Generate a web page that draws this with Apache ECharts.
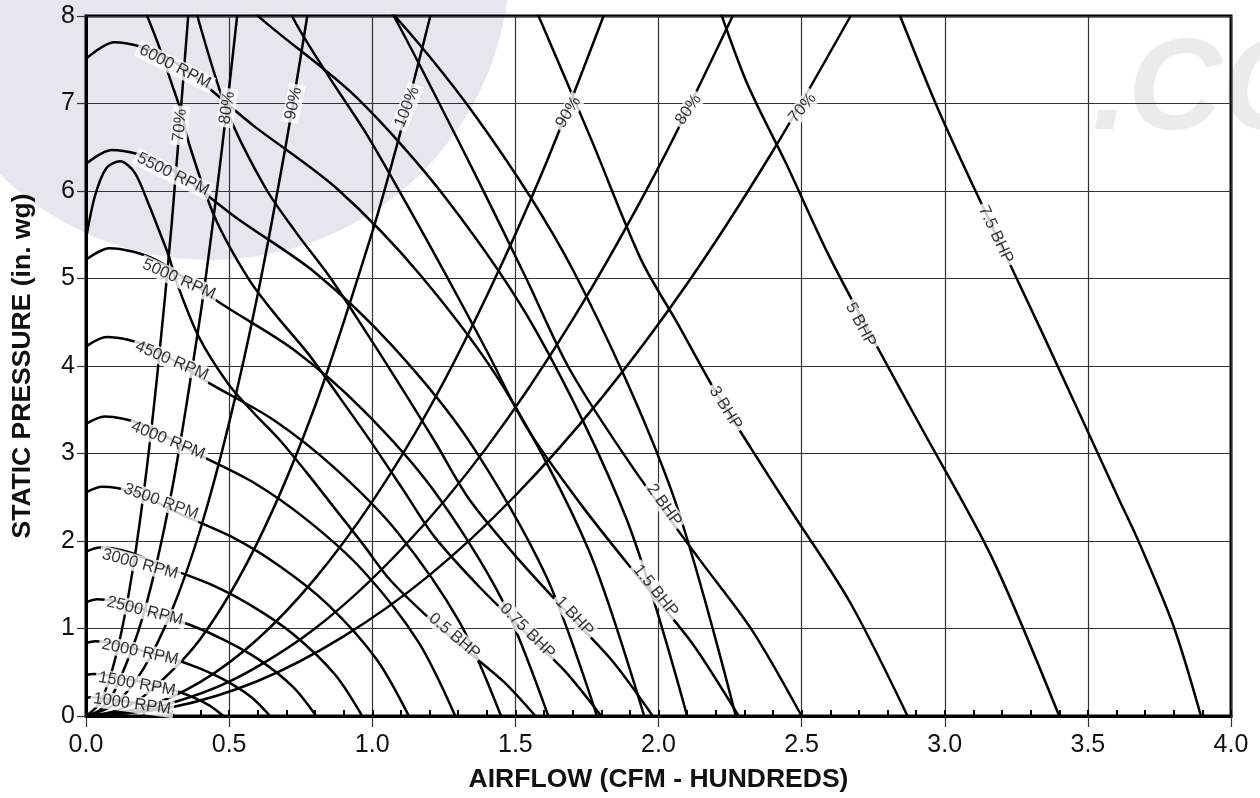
<!DOCTYPE html>
<html><head><meta charset="utf-8">
<script src="https://cdn.jsdelivr.net/npm/echarts@6/dist/echarts.min.js"></script>
<style>html,body{margin:0;padding:0;background:#fff}#c{width:1260px;height:798px}</style>
</head><body><div id="c"></div>
<script>
// ---- fan speed curves (x = airflow, y = static pressure) ----
const rpm1000 = [[0,.209],[.016,.214],[.047,.209],[.093,.188],[.14,.167],[.186,.14],[.233,.104],[.279,.053],[.31,0]];
const rpm1500 = [[0,.469],[.024,.481],[.072,.469],[.144,.421],[.216,.376],[.288,.314],[.36,.233],[.432,.119],[.48,0]];
const rpm2000 = [[0,.834],[.032,.855],[.096,.834],[.193,.75],[.289,.669],[.386,.559],[.482,.415],[.579,.212],[.643,0]];
const rpm2500 = [[0,1.30],[.04,1.333],[.121,1.30],[.241,1.168],[.362,1.043],[.482,.871],[.603,.647],[.724,.33],[.804,0]];
const rpm3000 = [[0,1.877],[.048,1.925],[.145,1.877],[.29,1.687],[.434,1.506],[.579,1.258],[.724,.934],[.869,.477],[.965,0]];
const rpm3500 = [[0,2.555],[.056,2.62],[.169,2.555],[.338,2.296],[.508,2.049],[.677,1.712],[.846,1.271],[1.015,.649],[1.128,0]];
const rpm4000 = [[0,3.337],[.065,3.422],[.194,3.337],[.387,2.998],[.581,2.677],[.774,2.236],[.968,1.66],[1.161,.847],[1.29,0]];
const rpm4500 = [[0,4.224],[.073,4.331],[.218,4.224],[.435,3.795],[.653,3.388],[.87,2.83],[1.088,2.101],[1.305,1.072],[1.45,0]];
const rpm5000 = [[0,5.215],[.081,5.347],[.242,5.215],[.485,4.685],[.727,4.182],[.969,3.494],[1.211,2.594],[1.454,1.324],[1.615,0]];
const rpm5500 = [[0,6.31],[.089,6.47],[.268,6.31],[.536,5.669],[.803,5.061],[1.071,4.228],[1.339,3.139],[1.607,1.602],[1.785,0]];
const rpm6000 = [[0,7.51],[.098,7.70],[.293,7.51],[.585,6.747],[.878,6.023],[1.17,5.032],[1.463,3.736],[1.755,1.906],[1.95,0]];
const rpm6500 = [[.315,8.814],[.63,7.919],[.945,7.069],[1.26,5.906],[1.575,4.385],[1.89,2.237],[2.10,0]];
const rpm7000 = [[.681,9.186],[1.022,8.2],[1.362,6.851],[1.703,5.086],[2.043,2.595],[2.27,0]];

// ---- constant brake horsepower curves ----
const bhp05 = [[0,5.45],[.031,5.94],[.071,6.26],[.119,6.34],[.17,6.21],[.22,5.84],[.261,5.5],[.29,5.25],[.314,4.98],[.393,4.34],[.496,3.80],[.581,3.48],[.675,3.16],[.769,2.79],[.865,2.39],[.966,1.97],[1.061,1.56],[1.198,1.12],[1.345,.707],[1.46,.389],[1.57,0]];
const bhp075 = [[.194,8.16],[.252,7.68],[.299,7.23],[.333,6.90],[.36,6.54],[.45,5.70],[.569,4.99],[.666,4.57],[.774,4.15],[.882,3.66],[.992,3.15],[1.107,2.59],[1.217,2.05],[1.373,1.48],[1.543,.93],[1.674,.51],[1.80,0]];
const bhp1 = [[.366,8.35],[.396,7.92],[.495,6.90],[.626,6.04],[.733,5.53],[.851,5.02],[.97,4.43],[1.091,3.81],[1.218,3.14],[1.338,2.48],[1.511,1.79],[1.697,1.125],[1.841,.62],[1.98,0]];
const bhp15 = [[.57,9.15],[.72,8.0],[.844,7.33],[.98,6.65],[1.117,5.87],[1.256,5.05],[1.402,4.16],[1.541,3.29],[1.74,2.37],[1.954,1.49],[2.12,.82],[2.28,0]];
const bhp2 = [[.79,9.63],[.925,8.81],[1.075,8.0],[1.225,7.06],[1.378,6.07],[1.538,5.0],[1.69,3.96],[1.908,2.85],[2.143,1.79],[2.325,.99],[2.5,0]];
const bhp3 = [[1.406,9.31],[1.581,8.0],[1.765,6.59],[1.94,5.21],[2.066,4.49],[2.19,3.76],[2.325,3.05],[2.46,2.36],[2.669,1.30],[2.87,0]];
const bhp5 = [[2.091,9.25],[2.298,7.32],[2.448,6.30],[2.594,5.27],[2.754,4.28],[2.914,3.32],[3.162,1.83],[3.40,0]];
const bhp75 = [[2.636,9.63],[2.808,8.29],[2.976,6.94],[3.159,5.64],[3.342,4.37],[3.608,2.48],[3.678,1.99],[3.80,1.02],[3.895,0]];

// ---- efficiency lines ----
const eff70L = [[0,0],[.05,.157],[.1,.628],[.15,1.41],[.2,2.51],[.25,3.93],[.3,5.65],[.357,8.0]];
const eff80L = [[0,0],[.05,.072],[.1,.287],[.2,1.15],[.3,2.58],[.4,4.59],[.45,5.81],[.5,7.18],[.528,8.0]];
const eff90L = [[0,0],[.1,.134],[.2,.536],[.3,1.205],[.4,2.14],[.5,3.35],[.6,4.82],[.7,6.56],[.773,8.0]];
const eff100 = [[0,0],[.1,.055],[.2,.221],[.4,.884],[.6,1.99],[.8,3.54],[1.0,5.53],[1.1,6.69],[1.203,8.0]];
const eff90R = [[0,0],[.2,.098],[.4,.39],[.6,.88],[.8,1.57],[1.0,2.45],[1.2,3.52],[1.4,4.80],[1.6,6.26],[1.808,8.0]];
const eff80R = [[0,0],[.2,.063],[.5,.392],[.8,1.0],[1.1,1.90],[1.4,3.07],[1.7,4.53],[2.0,6.27],[2.259,8.0]];
const eff70R = [[0,0],[.3,.10],[.6,.40],[.9,.91],[1.2,1.61],[1.5,2.52],[1.8,3.63],[2.1,4.94],[2.4,6.46],[2.671,8.0]];

// ---- curve labels (text and where they sit, in data units) ----
const rpmLabelText = ['1000 RPM','1500 RPM','2000 RPM','2500 RPM','3000 RPM','3500 RPM','4000 RPM','4500 RPM','5000 RPM','5500 RPM','6000 RPM'];
const rpmLabelAt = [[.161,.137],[.178,.365],[.189,.73],[.206,1.20],[.189,1.735],[.262,2.45],[.287,3.15],[.30,4.06],[.325,4.99],[.304,6.19],[.311,7.42]];
const effLabelText = ['70%','80%','90%','100%','90%','80%','70%'];
const effLabelAt = [[.328,6.75],[.493,6.95],[.725,7.0],[1.122,6.96],[1.685,6.9],[2.105,6.93],[2.503,6.95]];
const bhpLabelText = ['0.5 BHP','0.75 BHP','1 BHP','1.5 BHP','2 BHP','3 BHP','5 BHP','7.5 BHP'];
const bhpLabelAt = [[1.287,.913],[1.542,.97],[1.706,1.14],[1.99,1.43],[2.02,2.41],[2.234,3.52],[2.706,4.47],[3.178,5.50]];

// ---- axes ----
const xMin = 0, xMax = 4, xStep = 0.5, xMinorStep = 0.1;
const yMin = 0, yMax = 8, yStep = 1;
const xTitle = 'AIRFLOW (CFM - HUNDREDS)';
const yTitle = 'STATIC PRESSURE (in. wg)';

// styles (kept apart from data)
const rpmAngle = [-8,-10,-12,-14,-15,-20,-22,-23,-24,-26,-27];
const effAngle = [84,82,78,68,58,55,50];
const bhpAngle = [-40,-45,-47,-51,-54,-58,-62,-65];
const FONT = '"Liberation Sans", Arial, Helvetica, sans-serif';

const curves = [rpm1000,rpm1500,rpm2000,rpm2500,rpm3000,rpm3500,rpm4000,rpm4500,rpm5000,rpm5500,rpm6000,rpm6500,rpm7000,
  bhp05,bhp075,bhp1,bhp15,bhp2,bhp3,bhp5,bhp75,
  eff70L,eff80L,eff90L,eff100,eff90R,eff80R,eff70R];

const lineSeries = curves.map(d => ({
  type: 'line', data: d, smooth: 0.3, symbol: 'none', silent: true, clip: true, z: 2,
  lineStyle: { color: '#000', width: 2.5 }
}));

function labelItems(texts, at, angles) {
  return texts.map((t, i) => ({ value: at[i], name: t, label: { rotate: angles[i] } }));
}
const labelData = [].concat(
  labelItems(rpmLabelText, rpmLabelAt, rpmAngle),
  labelItems(effLabelText, effLabelAt, effAngle),
  labelItems(bhpLabelText, bhpLabelAt, bhpAngle)
);

const chart = echarts.init(document.getElementById('c'), null, { renderer: 'canvas' });
chart.setOption({
  animation: false,
  backgroundColor: '#fff',
  graphic: [
    { type: 'circle', z: -100, silent: true, shape: { cx: 210, cy: -40, r: 300 }, style: { fill: '#e6e6ef' } },
    { type: 'text', z: -100, silent: true, left: 1092, top: 28,
      style: { text: '.CO', font: 'italic bold 130px ' + FONT, fill: '#ebebeb' } }
  ],
  grid: { left: 86, right: 29, top: 16, bottom: 81, show: true, borderColor: '#000', borderWidth: 3, backgroundColor: 'transparent' },
  xAxis: [{
    type: 'value', min: xMin, max: xMax, interval: xStep, position: 'bottom',
    axisLine: { lineStyle: { color: '#000', width: 3 } },
    axisTick: { show: true, length: 11, lineStyle: { color: '#333', width: 1.2 } },
    axisLabel: { fontSize: 25, color: '#111', margin: 17, fontFamily: FONT, formatter: v => v.toFixed(1) },
    splitLine: { show: true, lineStyle: { color: '#333', width: 1.2 } },
    name: xTitle, nameLocation: 'middle', nameGap: 50,
    nameTextStyle: { fontSize: 26.5, fontWeight: 'bold', color: '#111', fontFamily: FONT }
  }, {
    type: 'value', min: xMin, max: xMax, interval: xMinorStep, position: 'bottom',
    axisLine: { show: false },
    axisTick: { show: true, inside: true, length: 6, lineStyle: { color: '#000', width: 2 } },
    axisLabel: { show: false }, splitLine: { show: false }
  }],
  yAxis: {
    type: 'value', min: yMin, max: yMax, interval: yStep,
    axisLine: { lineStyle: { color: '#000', width: 3 } },
    axisTick: { show: true, length: 9, lineStyle: { color: '#333', width: 1.2 } },
    axisLabel: { fontSize: 25, color: '#111', margin: 11, fontFamily: FONT },
    splitLine: { show: true, lineStyle: { color: '#333', width: 1.2 } },
    name: yTitle, nameLocation: 'middle', nameGap: 50,
    nameTextStyle: { fontSize: 26.5, fontWeight: 'bold', color: '#111', fontFamily: FONT }
  },
  series: lineSeries.concat([{
    type: 'scatter', data: labelData, symbol: 'rect', symbolSize: 1, silent: true, z: 10,
    itemStyle: { color: 'rgba(0,0,0,0)' },
    label: { show: true, position: 'inside', formatter: p => p.name, color: '#000', fontSize: 16.5,
      fontFamily: FONT, backgroundColor: '#fff', padding: [0, 3] }
  }])
});
</script></body></html>
